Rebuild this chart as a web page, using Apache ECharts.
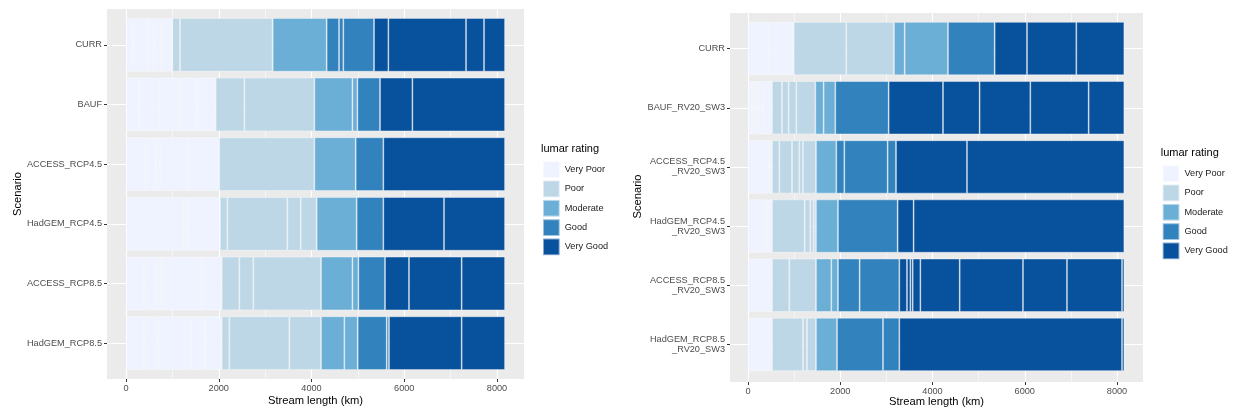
<!DOCTYPE html>
<html>
<head>
<meta charset="utf-8">
<title>lumar rating</title>
<script src="https://cdn.jsdelivr.net/npm/echarts@6/dist/echarts.min.js"></script>
<style>
html, body { margin: 0; padding: 0; background: #fff; }
#ct1 { width: 1234px; height: 412px; }
</style>
</head>
<body>
<div id="ct1"></div>
<script>
var ratings = ['Very Poor', 'Poor', 'Moderate', 'Good', 'Very Good'];
var xTicks = [0, 2000, 4000, 6000, 8000];

var leftScenarios = ['CURR', 'BAUF', 'ACCESS_RCP4.5', 'HadGEM_RCP4.5', 'ACCESS_RCP8.5', 'HadGEM_RCP8.5'];
var rightScenarios = ['CURR', 'BAUF_RV20_SW3', 'ACCESS_RCP4.5\n_RV20_SW3', 'HadGEM_RCP4.5\n_RV20_SW3',
    'ACCESS_RCP8.5\n_RV20_SW3', 'HadGEM_RCP8.5\n_RV20_SW3'];

// stream length (km) of each reach, grouped by rating: [VP, Poor, Moderate, Good, VG]
var leftCurr     = [[158, 323, 130, 158, 230], [165, 1999], [1164], [266, 93, 662], [309, 1675, 388, 453]];
var leftBauf     = [[280, 439, 431, 388, 395], [619, 1510], [820, 108], [487], [698, 1998]];
var leftAccess45 = [[424, 216, 93, 597, 675], [2057], [891], [596], [2624]];
var leftHad45    = [[1250, 80, 697], [158, 1294, 288, 345], [862], [575], [1308, 1316]];
var leftAccess85 = [[395, 266, 108, 863, 431], [381, 302, 1459], [677, 129], [574], [517, 1136, 935]];
var leftHad85    = [[395, 288, 719, 302, 359], [165, 1294, 683], [503, 288], [625, 50], [1567, 935]];

var rightCurr     = [[448, 543], [1140, 1034], [232, 939], [1012], [701, 1069, 1041]];
var rightBauf     = [[87, 72, 72, 94, 195], [217, 145, 166, 412], [180, 253], [1157], [1178, 794, 1099, 1265, 773]];
var rightAccess45 = [[448, 72], [159, 275, 159, 79, 282], [441], [173, 940, 181], [1539, 3411]];
var rightHad45    = [[361, 73, 86], [709, 122, 73, 50], [477], [1294], [346, 4568]];
var rightAccess85 = [[520], [376, 578], [333, 144], [470, 860], [166, 73, 51, 166, 853, 1372, 954, 1193, 50]];
var rightHad85    = [[520], [672, 87, 195], [456], [997, 354], [4828, 50]];

var leftBars = [leftCurr, leftBauf, leftAccess45, leftHad45, leftAccess85, leftHad85];
var rightBars = [rightCurr, rightBauf, rightAccess45, rightHad45, rightAccess85, rightHad85];

var colors = ['#EFF3FF', '#BDD7E7', '#6BAED6', '#3182BD', '#08519C'];
var font = 'Liberation Sans, Arial, Helvetica, sans-serif';
var myChart1;

onReady(function() {
	initMyChar1();
});

function onReady(fn) {
	if (document.readyState != 'loading') fn();
	else document.addEventListener('DOMContentLoaded', fn);
}

function buildSeries(bars, axisIdx, stackName) {
	var series = [];
	for (var r = 0; r < ratings.length; r++) {
		var maxSeg = 0;
		for (var s = 0; s < bars.length; s++) {
			maxSeg = Math.max(maxSeg, bars[s][r].length);
		}
		for (var k = 0; k < maxSeg; k++) {
			var data = [];
			for (var s = 0; s < bars.length; s++) {
				var v = bars[s][r][k];
				data.push(v === undefined ? '-' : v);
			}
			series.push({
				type : 'bar',
				name : ratings[r],
				stack : stackName,
				xAxisIndex : axisIdx,
				yAxisIndex : axisIdx,
				barCategoryGap : '10%',
				itemStyle : {
					color : colors[r],
					borderColor : 'rgba(255,255,255,0.5)',
					borderWidth : 0.8
				},
				data : data
			});
		}
	}
	return series;
}

// p: pixel layout of one ggplot panel
function buildPanel(p, scenarios, base, option) {
	option.grid.push({ left : p.left, top : p.top, width : p.width, height : p.height,
		show : true, backgroundColor : '#EBEBEB', borderWidth : 0 });
	option.grid.push({ left : p.x0, top : p.top, width : p.x8000 - p.x0, height : p.height });
	option.grid.push({ left : p.left, top : p.barTop, width : p.width, height : p.barHeight });

	option.xAxis.push({ gridIndex : base, type : 'value', show : false });
	option.yAxis.push({ gridIndex : base, type : 'value', show : false });

	option.xAxis.push({
		gridIndex : base + 1, type : 'value', min : xTicks[0], max : xTicks[xTicks.length - 1], interval : 2000,
		axisLine : { show : false, onZero : false },
		axisTick : { show : true, length : 3, lineStyle : { color : '#333333', width : 1 } },
		axisLabel : { color : '#4D4D4D', fontSize : 9.2, fontFamily : font, margin : 5,
			formatter : function(v) { return String(v); } },
		splitLine : { show : true, lineStyle : { color : '#FFFFFF', width : 1.1 } },
		minorTick : { show : false, splitNumber : 2 },
		minorSplitLine : { show : true, lineStyle : { color : '#FFFFFF', width : 0.55 } }
	});
	option.yAxis.push({ gridIndex : base + 1, type : 'value', show : false });

	option.xAxis.push({
		gridIndex : base + 2, type : 'value', min : p.xmin, max : p.xmax,
		name : 'Stream length (km)', nameLocation : 'middle', nameGap : p.xNameGap,
		nameTextStyle : { color : '#000', fontSize : 11.2, fontFamily : font },
		axisLine : { show : false, onZero : false }, axisTick : { show : false }, axisLabel : { show : false },
		splitLine : { show : false }
	});
	option.yAxis.push({
		gridIndex : base + 2, type : 'category', inverse : true, data : scenarios,
		name : 'Scenario', nameLocation : 'middle', nameGap : p.yNameGap, nameRotate : 90,
		nameTextStyle : { color : '#000', fontSize : 11.2, fontFamily : font },
		axisLine : { show : false, onZero : false },
		axisTick : { show : true, alignWithLabel : true, length : 3, lineStyle : { color : '#333333' } },
		axisLabel : { color : '#4D4D4D', fontSize : 9.2, fontFamily : font, margin : 5, lineHeight : 10 },
		splitLine : { show : true, alignWithLabel : true, lineStyle : { color : '#FFFFFF', width : 1.1 } }
	});

	option.title.push({ text : 'lumar rating', left : p.legLeft - 1, top : p.legTop - 16.5, padding : 0,
		textStyle : { color : '#000', fontSize : 11, fontWeight : 'normal', fontFamily : font } });
	option.legend.push({
		data : ratings, orient : 'vertical', left : p.legLeft, top : p.legTop, padding : 0,
		itemWidth : 16.7, itemHeight : 16.7, itemGap : 0.6, icon : 'rect', selectedMode : false,
		textStyle : { color : '#1A1A1A', fontSize : 9.2, fontFamily : font }
	});
}

function initMyChar1() {
	if (myChart1 && myChart1.dispose) {
		myChart1.dispose();
	}
	myChart1 = echarts.init(document.getElementById('ct1'));
	var option = { animation : false, backgroundColor : '#FFFFFF', grid : [], xAxis : [], yAxis : [],
		title : [], legend : [], series : [] };

	buildPanel({ left : 107, top : 9, width : 417, height : 370, x0 : 126, x8000 : 497,
		barTop : 15, barHeight : 358, xmin : -410, xmax : 8582, xNameGap : 22, yNameGap : 84,
		legLeft : 542, legTop : 160.3 }, leftScenarios, 0, option);
	buildPanel({ left : 730, top : 13, width : 413, height : 369, x0 : 748, x8000 : 1117,
		barTop : 19, barHeight : 357, xmin : -390, xmax : 8564, xNameGap : 22, yNameGap : 86,
		legLeft : 1161.7, legTop : 164.3 }, rightScenarios, 3, option);

	option.series = buildSeries(leftBars, 2, 'left').concat(buildSeries(rightBars, 5, 'right'));
	myChart1.setOption(option, true);
}
</script>
</body>
</html>
